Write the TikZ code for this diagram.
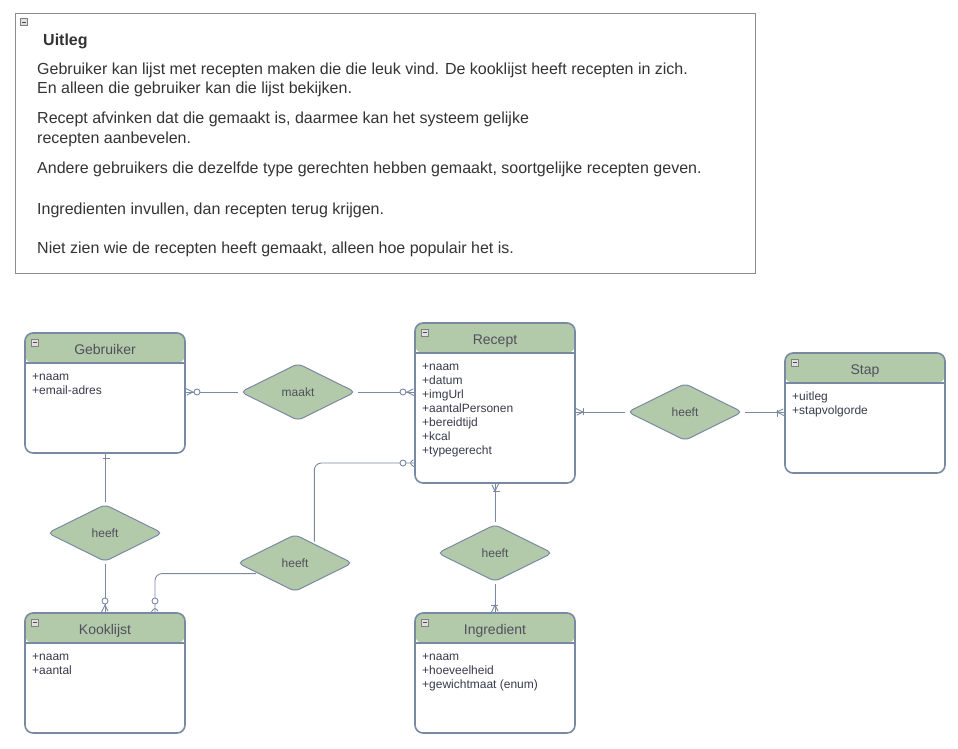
\documentclass[tikz,border=0pt]{standalone}
\usepackage{fontspec}
\setmainfont{Liberation Sans}
\usepackage{tikz}
\usetikzlibrary{shapes.geometric, decorations.markings, positioning}

\definecolor{lineGrey}{RGB}{122,137,163}
\definecolor{headGreen}{RGB}{178,201,170}
\definecolor{boxGrey}{RGB}{140,140,140}
\definecolor{textDark}{RGB}{51,51,51}
\definecolor{titleGrey}{RGB}{80,80,92}
\definecolor{attrDark}{RGB}{58,58,78}

\tikzstyle{notebox} = [rectangle, draw=boxGrey, line width=0.8pt, minimum width=740pt, minimum height=260pt, inner sep=0pt]
\tikzstyle{noteTitle} = [anchor=base west, inner sep=0pt, text=textDark, font=\fontsize{16}{19}\selectfont\bfseries]
\tikzstyle{noteText} = [anchor=base west, inner sep=0pt, text=textDark, font=\fontsize{16}{19}\selectfont]
\tikzstyle{icon} = [rectangle, draw=gray, fill=black!12, line width=0.6pt, minimum size=7pt, inner sep=0pt,
                path picture={\draw[black!70, line width=0.9pt] ([xshift=1.5pt]path picture bounding box.west) -- ([xshift=-1.5pt]path picture bounding box.east);}]
\tikzstyle{entity} = [
                rectangle,
                rounded corners=8pt,
                draw=lineGrey,
                line width=1.6pt,
                fill=white,
                minimum width=160pt,
                minimum height=120pt,
                inner sep=0pt,
                outer sep=0pt,
                path picture={
                    \fill[headGreen] (path picture bounding box.north west) rectangle ([yshift=-30pt]path picture bounding box.north east);
                    \draw[lineGrey, line width=1.6pt] ([yshift=-30pt]path picture bounding box.north west) -- ([yshift=-30pt]path picture bounding box.north east);
                }
            ]
\tikzstyle{entTitle} = [anchor=base, inner sep=0pt, text=titleGrey, font=\fontsize{14}{16}\selectfont]
\tikzstyle{attr} = [anchor=base west, inner sep=0pt, text=attrDark, font=\fontsize{12}{14}\selectfont]
\tikzstyle{relation} = [
                diamond,
                aspect=2,
                minimum width=115pt,
                minimum height=57pt,
                rounded corners=5pt,
                draw=lineGrey,
                line width=1pt,
                fill=headGreen,
                inner sep=0pt,
                text=titleGrey,
                font=\fontsize{12}{14}\selectfont
            ]
\tikzstyle{link} = [draw=lineGrey, line width=0.9pt, shorten <=2pt]
\tikzstyle{zeromany} = [postaction={decorate, decoration={markings, mark=at position 1 with {
                \draw[lineGrey, line width=0.9pt] (0pt,4pt) -- (-8pt,0pt) -- (0pt,-4pt);
                \draw[lineGrey, line width=0.9pt, fill=white] (-12pt,0pt) circle (3pt);}}}]
\tikzstyle{onemany} = [postaction={decorate, decoration={markings, mark=at position 1 with {
                \draw[lineGrey, line width=0.9pt] (0pt,4pt) -- (-8pt,0pt) -- (0pt,-4pt);
                \draw[lineGrey, line width=0.9pt] (-8pt,4.5pt) -- (-8pt,-4.5pt);}}}]
\tikzstyle{justone} = [postaction={decorate, decoration={markings, mark=at position 1 with {
                \draw[lineGrey, line width=0.9pt] (-5pt,4.5pt) -- (-5pt,-4.5pt);}}}]

\begin{document}
\begin{tikzpicture}[x=1pt, y=-1pt]
\useasboundingbox (0,0) rectangle (958,748);

% uitleg
\node (uitleg) [notebox] at (385,143) {};
\node (uitlegIcon) [icon] at ([xshift=9.5pt,yshift=-9.5pt]uitleg.north west) {};
\node (uitlegTitle) [noteTitle] at (43,45) {Uitleg};
\node (regel1) [noteText] at (37,74) {Gebruiker kan lijst met recepten maken die die leuk vind. De kooklijst heeft recepten in zich.};
\node (regel2) [noteText] at (37,93) {En alleen die gebruiker kan die lijst bekijken.};
\node (regel3) [noteText] at (37,123) {Recept afvinken dat die gemaakt is, daarmee kan het systeem gelijke};
\node (regel4) [noteText] at (37,143) {recepten aanbevelen.};
\node (regel5) [noteText] at (37,173) {Andere gebruikers die dezelfde type gerechten hebben gemaakt, soortgelijke recepten geven.};
\node (regel6) [noteText] at (37,214) {Ingredienten invullen, dan recepten terug krijgen.};
\node (regel7) [noteText] at (37,253) {Niet zien wie de recepten heeft gemaakt, alleen hoe populair het is.};

% entiteiten
\node (gebruiker) [entity] at (105,393) {};
\node (gebruikerIcon) [icon] at ([xshift=9.5pt,yshift=-9.5pt]gebruiker.north west) {};
\node (gebruikerTitle) [entTitle] at ([yshift=-21pt]gebruiker.north) {Gebruiker};
\foreach \attrtext [count=\i] in {+naam, +email-adres}
    \node (gebruikerAttr\i) [attr] at ([xshift=7pt, yshift={-47pt-(\i-1)*14pt}]gebruiker.north west) {\attrtext};

\node (recept) [entity, minimum height=160pt] at (495,403) {};
\node (receptIcon) [icon] at ([xshift=9.5pt,yshift=-9.5pt]recept.north west) {};
\node (receptTitle) [entTitle] at ([yshift=-21pt]recept.north) {Recept};
\foreach \attrtext [count=\i] in {+naam, +datum, +imgUrl, +aantalPersonen, +bereidtijd, +kcal, +typegerecht}
    \node (receptAttr\i) [attr] at ([xshift=7pt, yshift={-47pt-(\i-1)*14pt}]recept.north west) {\attrtext};

\node (stap) [entity] at (865,413) {};
\node (stapIcon) [icon] at ([xshift=9.5pt,yshift=-9.5pt]stap.north west) {};
\node (stapTitle) [entTitle] at ([yshift=-21pt]stap.north) {Stap};
\foreach \attrtext [count=\i] in {+uitleg, +stapvolgorde}
    \node (stapAttr\i) [attr] at ([xshift=7pt, yshift={-47pt-(\i-1)*14pt}]stap.north west) {\attrtext};

\node (kooklijst) [entity] at (105,673) {};
\node (kooklijstIcon) [icon] at ([xshift=9.5pt,yshift=-9.5pt]kooklijst.north west) {};
\node (kooklijstTitle) [entTitle] at ([yshift=-21pt]kooklijst.north) {Kooklijst};
\foreach \attrtext [count=\i] in {+naam, +aantal}
    \node (kooklijstAttr\i) [attr] at ([xshift=7pt, yshift={-47pt-(\i-1)*14pt}]kooklijst.north west) {\attrtext};

\node (ingredient) [entity] at (495,673) {};
\node (ingredientIcon) [icon] at ([xshift=9.5pt,yshift=-9.5pt]ingredient.north west) {};
\node (ingredientTitle) [entTitle] at ([yshift=-21pt]ingredient.north) {Ingredient};
\foreach \attrtext [count=\i] in {+naam, +hoeveelheid, +gewichtmaat (enum)}
    \node (ingredientAttr\i) [attr] at ([xshift=7pt, yshift={-47pt-(\i-1)*14pt}]ingredient.north west) {\attrtext};

% relaties
\node (maakt) [relation] at (298,392) {maakt};
\node (heeftStap) [relation] at (685,412) {heeft};
\node (heeftLijst) [relation] at (105,533) {heeft};
\node (heeftKR) [relation] at (295,563) {heeft};
\node (heeftIngr) [relation] at (495,553) {heeft};

\draw [link, zeromany] (maakt.west) -- (maakt.west -| gebruiker.east);
\draw [link, zeromany] (maakt.east) -- (maakt.east -| recept.west);
\draw [link, onemany] (heeftStap.west) -- (heeftStap.west -| recept.east);
\draw [link, onemany] (heeftStap.east) -- (heeftStap.east -| stap.west);
\draw [link, justone] (heeftLijst.north) -- (gebruiker.south);
\draw [link, zeromany] (heeftLijst.south) -- (kooklijst.north);
\draw [link, zeromany, rounded corners=7pt] (heeftKR.196) -| ([xshift=50pt]kooklijst.north);
\draw [link, zeromany, rounded corners=7pt] (heeftKR.45) |- ([yshift=-60pt]recept.west);
\draw [link, onemany] (heeftIngr.north) -- (recept.south);
\draw [link, onemany] (heeftIngr.south) -- (ingredient.north);
\end{tikzpicture}
\end{document}
